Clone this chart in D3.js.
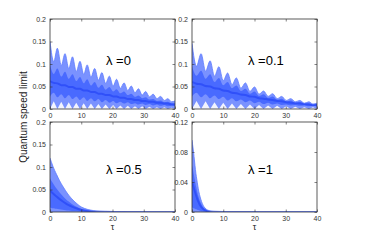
<!DOCTYPE html>
<html>
<head>
<meta charset="utf-8">
<script src="https://cdn.jsdelivr.net/npm/d3@7"></script>
<style>
  body { margin: 0; background: #fff; }
  text { font-family: "Liberation Sans", Arial, sans-serif; }
</style>
</head>
<body>
<div class="plot"></div>
<script>
// lambda = 0 : peaks and troughs
var tauA = [0,1.2,2.35,3.6,4.8,6,7.2,8.4,9.6,10.8,11.9,13.1,14.3,15.5,16.6,17.8,19,20.2,21.3,22.5,23.7,24.9,26,27.2,28.3,29.5,30.6,31.8,33,34.2,35.4,36.6,37.7,38.9,40];
var hiA = [0.150,0.105,0.135,0.097,0.123,0.090,0.116,0.083,0.106,0.077,0.098,0.071,0.090,0.064,0.081,0.057,0.073,0.051,0.066,0.046,0.058,0.041,0.051,0.036,0.045,0.031,0.039,0.027,0.033,0.023,0.028,0.019,0.023,0.016,0.018];
var loA = [0,0.017,0,0.016,0,0.015,0,0.014,0,0.013,0,0.012,0,0.011,0,0.010,0,0.009,0,0.008,0,0.007,0,0.006,0,0.006,0,0.005,0,0.004,0,0.004,0,0.003,0];
var inHiA = [0.098,0.078,0.090,0.072,0.083,0.067,0.077,0.062,0.071,0.057,0.066,0.052,0.060,0.047,0.054,0.043,0.049,0.039,0.044,0.035,0.039,0.031,0.034,0.027,0.030,0.024,0.026,0.021,0.022,0.018,0.019,0.015,0.016,0.013,0.013];
var inLoA = [0.028,0.036,0.026,0.033,0.024,0.031,0.022,0.028,0.020,0.026,0.018,0.024,0.017,0.022,0.015,0.020,0.014,0.018,0.013,0.016,0.012,0.015,0.011,0.013,0.010,0.012,0.009,0.011,0.008,0.010,0.007,0.009,0.006,0.008,0.006];
var coreA = [0.062,0.058,0.057,0.053,0.053,0.049,0.049,0.045,0.045,0.041,0.041,0.038,0.038,0.034,0.034,0.031,0.031,0.028,0.028,0.025,0.025,0.022,0.022,0.020,0.020,0.018,0.018,0.016,0.016,0.014,0.014,0.012,0.012,0.010,0.010];

// lambda = 0.1
var tauB = [0,1.45,2.9,4.35,5.8,7.2,8.6,10,11.4,12.8,14.2,15.65,17.1,18.55,20,21.45,22.9,24.35,25.8,27.25,28.7,30.15,31.6,33.05,34.5,35.95,37.4,38.7,40];
var hiB = [0.146,0.095,0.123,0.084,0.107,0.073,0.094,0.063,0.080,0.054,0.069,0.046,0.058,0.039,0.049,0.033,0.040,0.028,0.034,0.023,0.028,0.019,0.023,0.016,0.019,0.013,0.016,0.011,0.013];
var loB = [0,0.018,0,0.017,0,0.015,0,0.014,0,0.012,0,0.011,0,0.010,0,0.009,0,0.008,0,0.007,0,0.006,0,0.005,0,0.004,0,0.004,0];
var inHiB = [0.095,0.074,0.085,0.067,0.077,0.060,0.069,0.053,0.060,0.046,0.052,0.040,0.045,0.034,0.039,0.029,0.033,0.025,0.028,0.021,0.023,0.017,0.019,0.014,0.016,0.012,0.013,0.010,0.011];
var inLoB = [0.028,0.036,0.026,0.033,0.024,0.030,0.022,0.027,0.019,0.024,0.017,0.021,0.015,0.019,0.013,0.016,0.011,0.014,0.010,0.012,0.009,0.010,0.008,0.009,0.007,0.008,0.006,0.007,0.005];
var coreB = [0.060,0.056,0.055,0.051,0.050,0.046,0.045,0.041,0.040,0.036,0.035,0.032,0.031,0.028,0.027,0.024,0.023,0.021,0.020,0.018,0.017,0.015,0.014,0.013,0.012,0.011,0.010,0.009,0.009];

// lambda = 0.5
var tauC = [0,0.5,1,1.5,2,3,4,5,6,7,8,9,10,11,12,14,16,18,20,25,30,40];
var hiC = [0.120,0.110,0.100,0.092,0.085,0.070,0.058,0.047,0.037,0.029,0.022,0.016,0.011,0.008,0.0055,0.0028,0.0015,0.0009,0.0006,0.0003,0.0002,0.0001];
var loC = [0,0,0,0,0,0,0,0,0,0,0,0,0,0,0,0,0,0,0,0,0,0];
var inHiC = [0.075,0.069,0.063,0.058,0.053,0.044,0.036,0.029,0.023,0.018,0.013,0.010,0.007,0.005,0.0035,0.0017,0.0009,0.0005,0.0003,0.0002,0.0001,0.00005];
var inLoC = [0.010,0.009,0.008,0.008,0.007,0.006,0.005,0.004,0.003,0.0025,0.002,0.0015,0.001,0.0007,0.0005,0.0003,0.0002,0.0001,0,0,0,0];
var coreC = [0.048,0.044,0.041,0.038,0.035,0.029,0.024,0.019,0.015,0.012,0.009,0.0065,0.0045,0.0032,0.0022,0.0011,0.0006,0.0003,0.0002,0.0001,0,0];

// lambda = 1
var tauD = [0,0.25,0.5,0.8,1.1,1.4,1.7,2,2.4,2.8,3.3,3.8,4.5,5.5,7,10,20,40];
var hiD = [0.096,0.088,0.080,0.068,0.056,0.047,0.039,0.031,0.023,0.017,0.011,0.007,0.0035,0.0015,0.0006,0.0002,0.0001,0.0001];
var loD = [0,0,0,0,0,0,0,0,0,0,0,0,0,0,0,0,0,0];
var inHiD = [0.062,0.058,0.052,0.045,0.038,0.032,0.026,0.021,0.016,0.012,0.008,0.005,0.0025,0.001,0.0004,0.0001,0,0];
var inLoD = [0.006,0.006,0.005,0.005,0.004,0.004,0.003,0.003,0.002,0.0015,0.001,0.0007,0.0004,0.0002,0,0,0,0];
var coreD = [0.040,0.037,0.033,0.029,0.025,0.021,0.017,0.014,0.010,0.0075,0.005,0.003,0.0015,0.0006,0.0002,0,0,0];

var xTicks = [0, 10, 20, 30, 40];
var yTicks = [0, 0.05, 0.1, 0.15, 0.2];
var yTicksSmall = [0, 0.04, 0.08, 0.12];
var labels = ["\u03bb =0", "\u03bb =0.1", "\u03bb =0.5", "\u03bb =1"];

var width = 386, height = 248;

var panels = [
  {x: 50,  y: 19,  tau: tauA, hi: hiA, lo: loA, inHi: inHiA, inLo: inLoA, core: coreA, ymax: 0.2,  yt: yTicks,      lab: labels[0], ly: 46, osc: true},
  {x: 192, y: 19,  tau: tauB, hi: hiB, lo: loB, inHi: inHiB, inLo: inLoB, core: coreB, ymax: 0.2,  yt: yTicks,      lab: labels[1], ly: 46, osc: true},
  {x: 50,  y: 122, tau: tauC, hi: hiC, lo: loC, inHi: inHiC, inLo: inLoC, core: coreC, ymax: 0.2,  yt: yTicks,      lab: labels[2], ly: 52, osc: false},
  {x: 192, y: 122, tau: tauD, hi: hiD, lo: loD, inHi: inHiD, inLo: inLoD, core: coreD, ymax: 0.12, yt: yTicksSmall, lab: labels[3], ly: 52, osc: false}
];
var pw = 125, ph = 90;

var svg = d3.select(".plot").append("svg")
    .attr("width", width)
    .attr("height", height);

panels.forEach(function(p, k) {
  var x = d3.scaleLinear().domain([0, 40]).range([0, pw]);
  var y = d3.scaleLinear().domain([0, p.ymax]).range([ph, 0]);
  var g = svg.append("g").attr("transform", "translate(" + p.x + "," + p.y + ")");

  var clipId = "clip" + k;
  g.append("clipPath").attr("id", clipId)
    .append("rect").attr("width", pw).attr("height", ph);

  var rows = p.tau.map(function(t, i) {
    return {t: t, hi: p.hi[i], lo: p.lo[i], ih: p.inHi[i], il: p.inLo[i], c: p.core[i]};
  });
  var curve = p.osc ? d3.curveMonotoneX : d3.curveBasis;

  var outer = d3.area().curve(curve)
      .x(function(d) { return x(d.t); })
      .y0(y(0))
      .y1(function(d) { return y(d.hi); });
  var notch = d3.area()
      .x(function(d) { return x(d.t); })
      .y0(y(0))
      .y1(function(d) { return y(d.lo); });
  var inner = d3.area().curve(curve)
      .x(function(d) { return x(d.t); })
      .y0(function(d) { return y(d.il); })
      .y1(function(d) { return y(d.ih); });
  var top = d3.line().curve(curve)
      .x(function(d) { return x(d.t); })
      .y(function(d) { return y(d.hi); });
  var core = d3.line().curve(curve)
      .x(function(d) { return x(d.t); })
      .y(function(d) { return y(d.c); });

  var plot = g.append("g").attr("clip-path", "url(#" + clipId + ")");
  plot.append("path").datum(rows).attr("d", outer)
      .attr("fill", "#7a92ff");
  plot.append("path").datum(rows).attr("d", notch)
      .attr("fill", "#fff").attr("fill-opacity", 0.9);
  plot.append("path").datum(rows).attr("d", inner)
      .attr("fill", "#3a5cff").attr("fill-opacity", 0.75);
  plot.append("path").datum(rows).attr("d", core)
      .attr("fill", "none").attr("stroke", "#1f3ff5").attr("stroke-width", 2).attr("stroke-opacity", 0.6);
  plot.append("path").datum(rows).attr("d", top)
      .attr("fill", "none").attr("stroke", "#5f7cff").attr("stroke-width", 0.8);

  // frame with inward ticks on all sides (matlab style)
  g.append("rect").attr("width", pw).attr("height", ph)
      .attr("fill", "none").attr("stroke", "#333").attr("stroke-width", 0.8);

  var xb = g.append("g").attr("transform", "translate(0," + ph + ")")
      .call(d3.axisBottom(x).tickValues(xTicks).tickSizeInner(-2.5).tickSizeOuter(0).tickPadding(4));
  var xt = g.append("g")
      .call(d3.axisTop(x).tickValues(xTicks).tickSizeInner(-2.5).tickSizeOuter(0).tickFormat(""));
  var yl = g.append("g")
      .call(d3.axisLeft(y).tickValues(p.yt).tickSizeInner(-2.5).tickSizeOuter(0).tickPadding(4).tickFormat(function(v) { return String(v); }));
  var yr = g.append("g").attr("transform", "translate(" + pw + ",0)")
      .call(d3.axisRight(y).tickValues(p.yt).tickSizeInner(-2.5).tickSizeOuter(0).tickFormat(""));
  [xb, xt, yl, yr].forEach(function(a) {
    a.select(".domain").remove();
    a.selectAll("line").attr("stroke", "#333").attr("stroke-width", 0.6);
    a.selectAll("text").attr("fill", "#333").style("font-size", "7px")
      .style("font-family", "'Liberation Sans', Arial, sans-serif");
  });

  g.append("text")
      .attr("x", 56).attr("y", p.ly)
      .style("font-size", "13px").attr("fill", "#000")
      .text(p.lab);

  if (k >= 2) {
    g.append("text")
        .attr("x", pw / 2).attr("y", ph + 18)
        .attr("text-anchor", "middle")
        .style("font-size", "9px").attr("fill", "#222")
        .text("\u03c4");
  }
});

svg.append("text")
    .attr("transform", "translate(27,117) rotate(-90)")
    .attr("text-anchor", "middle")
    .style("font-size", "10px").attr("fill", "#222")
    .text("Quantum speed limit");
</script>
</body>
</html>
